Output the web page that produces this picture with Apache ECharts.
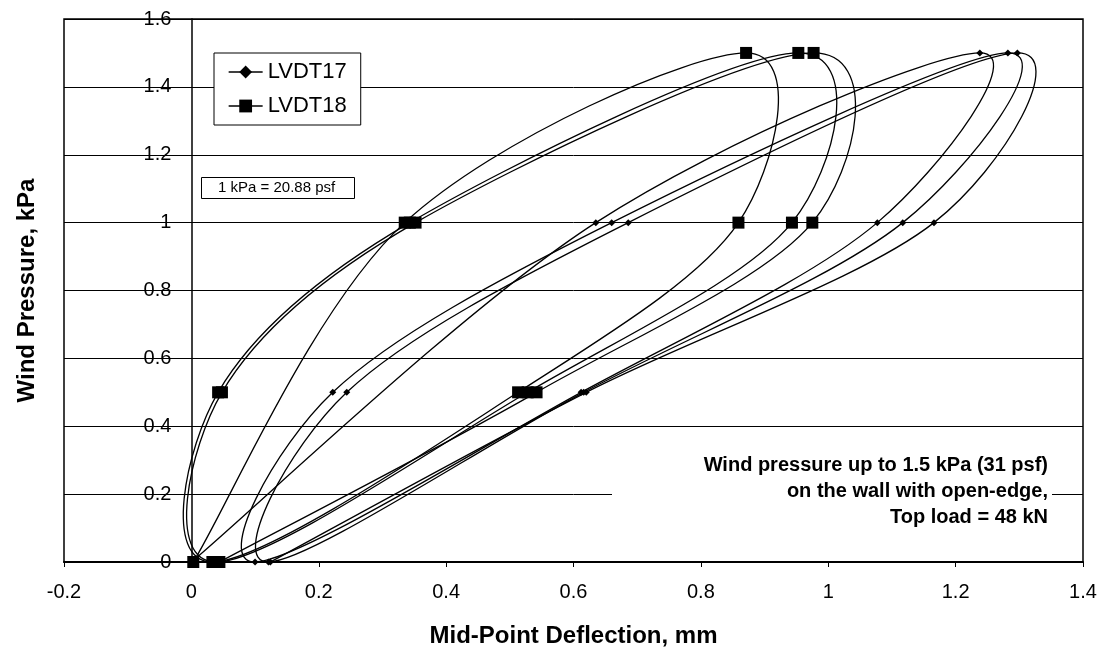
<!DOCTYPE html>
<html>
<head>
<meta charset="utf-8">
<style>
  html, body { margin: 0; padding: 0; background: #fff; }
  #chart { width: 1104px; height: 649px; }
</style>
<script src="https://cdn.jsdelivr.net/npm/echarts@6/dist/echarts.min.js"></script>
</head>
<body>
<div id="chart"></div>
<script>
// pressure steps of the three load cycles (kPa), shared by both gauges
const pressure = [0, 1, 1.5, 1, 0.5, 0, 0.5, 1, 1.5, 1, 0.5, 0, 0.5, 1, 1.5, 1, 0.5, 0];
// mid-point deflection readings (mm)
const lvdt17 = [0, 0.635, 1.238, 1.077, 0.612, 0.100, 0.222, 0.660, 1.282, 1.117, 0.616, 0.121, 0.244, 0.686, 1.297, 1.166, 0.620, 0.124];
const lvdt18 = [0.003, 0.335, 0.871, 0.859, 0.513, 0.033, 0.042, 0.343, 0.953, 0.943, 0.528, 0.039, 0.048, 0.352, 0.977, 0.975, 0.542, 0.044];
const seriesNames = ['LVDT17', 'LVDT18'];
const xRange = [-0.2, 1.4];
const yRange = [0, 1.6];
const tickStep = 0.2;
const noteLines = ['Wind pressure up to 1.5 kPa (31 psf)', 'on the wall with open-edge,', 'Top load = 48 kN'];
const unitNote = '1 kPa = 20.88 psf';

const FONT = "'Liberation Sans', Arial, sans-serif";
const GRID = { left: 64, right: 21, top: 19, bottom: 87 };
const plotW = 1104 - GRID.left - GRID.right;

function pairs(xs) {
  return xs.map((x, i) => [x, pressure[i]]);
}

// Excel style smoothed scatter line: bezier per segment, arms capped at half the segment
function smoothSegment(xs) {
  return function (params, api) {
    const i = params.dataIndex;
    const n = xs.length;
    if (i >= n - 1) return null;
    const pt = (k) => {
      const j = Math.max(0, Math.min(n - 1, k));
      return api.coord([xs[j], pressure[j]]);
    };
    const p0 = pt(i - 1), p1 = pt(i), p2 = pt(i + 1), p3 = pt(i + 2);
    const dist = (a, b) => Math.hypot(a[0] - b[0], a[1] - b[1]);
    const d12 = dist(p1, p2), d02 = dist(p0, p2), d13 = dist(p1, p3);
    let f0 = 1 / 6, f1 = 1 / 6;
    if (d02 / 6 >= d12 / 2 && d02 > 0) f0 = d12 / 2 / d02;
    if (d13 / 6 >= d12 / 2 && d13 > 0) f1 = d12 / 2 / d13;
    return {
      type: 'bezierCurve',
      shape: {
        x1: p1[0], y1: p1[1],
        cpx1: p1[0] + (p2[0] - p0[0]) * f0, cpy1: p1[1] + (p2[1] - p0[1]) * f0,
        cpx2: p2[0] - (p3[0] - p1[0]) * f1, cpy2: p2[1] - (p3[1] - p1[1]) * f1,
        x2: p2[0], y2: p2[1]
      },
      style: { stroke: '#000', lineWidth: 1.3, fill: null }
    };
  };
}

function curveSeries(xs) {
  return {
    type: 'custom',
    data: pairs(xs),
    encode: { x: 0, y: 1 },
    renderItem: smoothSegment(xs),
    silent: true,
    z: 2
  };
}

function markerSeries(name, xs, symbol, size) {
  return {
    name: name,
    type: 'line',
    data: pairs(xs),
    symbol: symbol, symbolSize: size,
    showAllSymbol: true,
    lineStyle: { color: '#000', width: 1.3, opacity: 0 },
    itemStyle: { color: '#000' },
    z: 3
  };
}

// one right-aligned text element per line of the note
const noteGraphics = noteLines.map((line, k) => ({
  type: 'text', right: 56, top: 455 + k * 26, z: 6,
  style: { text: line, font: 'bold 20px ' + FONT, fill: '#000' }
}));

const chart = echarts.init(document.getElementById('chart'));

chart.setOption({
  animation: false,
  backgroundColor: '#fff',
  textStyle: { fontFamily: FONT, color: '#000' },
  grid: Object.assign({
    outerBoundsMode: 'none', containLabel: false,
    show: true, borderColor: '#000', borderWidth: 1.5
  }, GRID),
  legend: {
    orient: 'vertical',
    left: 214, top: 53,
    padding: [8, 14, 8, 14],
    itemGap: 12,
    itemWidth: 34, itemHeight: 16,
    backgroundColor: '#fff',
    borderColor: '#000', borderWidth: 1,
    lineStyle: { color: '#000', width: 1.3, opacity: 1, type: 'solid' },
    textStyle: { fontFamily: FONT, fontSize: 22, color: '#000' },
    data: seriesNames
  },
  xAxis: {
    type: 'value',
    min: xRange[0], max: xRange[1], interval: tickStep,
    name: 'Mid-Point Deflection, mm',
    nameLocation: 'middle', nameGap: 62,
    nameTextStyle: { fontFamily: FONT, fontSize: 24, fontWeight: 'bold', color: '#000' },
    axisLine: { onZero: true, lineStyle: { color: '#000', width: 2 } },
    axisTick: { show: true, length: 5, lineStyle: { color: '#000' } },
    axisLabel: { fontFamily: FONT, fontSize: 20, color: '#000', margin: 20 },
    splitLine: { show: false }
  },
  yAxis: {
    type: 'value',
    min: yRange[0], max: yRange[1], interval: tickStep,
    // the vertical axis crosses at x = 0
    offset: -plotW * (0 - xRange[0]) / (xRange[1] - xRange[0]),
    name: 'Wind Pressure, kPa',
    nameLocation: 'middle', nameGap: 152,
    nameTextStyle: { fontFamily: FONT, fontSize: 24, fontWeight: 'bold', color: '#000' },
    axisLine: { show: true, onZero: false, lineStyle: { color: '#000', width: 1.5 } },
    axisTick: { show: false },
    axisLabel: { fontFamily: FONT, fontSize: 20, color: '#000', margin: 20 },
    splitLine: { show: true, lineStyle: { color: '#000', width: 1 } }
  },
  graphic: [
    // white patch that interrupts the 0.2 gridline behind the note
    { type: 'rect', left: 612, top: 450, shape: { width: 440, height: 84 }, style: { fill: '#fff' }, z: 5 },
    ...noteGraphics,
    { type: 'rect', left: 201, top: 177, shape: { width: 153, height: 21 }, style: { fill: '#fff', stroke: '#000', lineWidth: 1 }, z: 5 },
    {
      type: 'text', left: 218, top: 180, z: 6,
      style: { text: unitNote, font: '15px ' + FONT, fill: '#000' }
    }
  ],
  series: [
    curveSeries(lvdt17),
    curveSeries(lvdt18),
    markerSeries(seriesNames[0], lvdt17, 'diamond', 7),
    markerSeries(seriesNames[1], lvdt18, 'rect', 12)
  ]
});

window.addEventListener('resize', () => chart.resize());
</script>
</body>
</html>
